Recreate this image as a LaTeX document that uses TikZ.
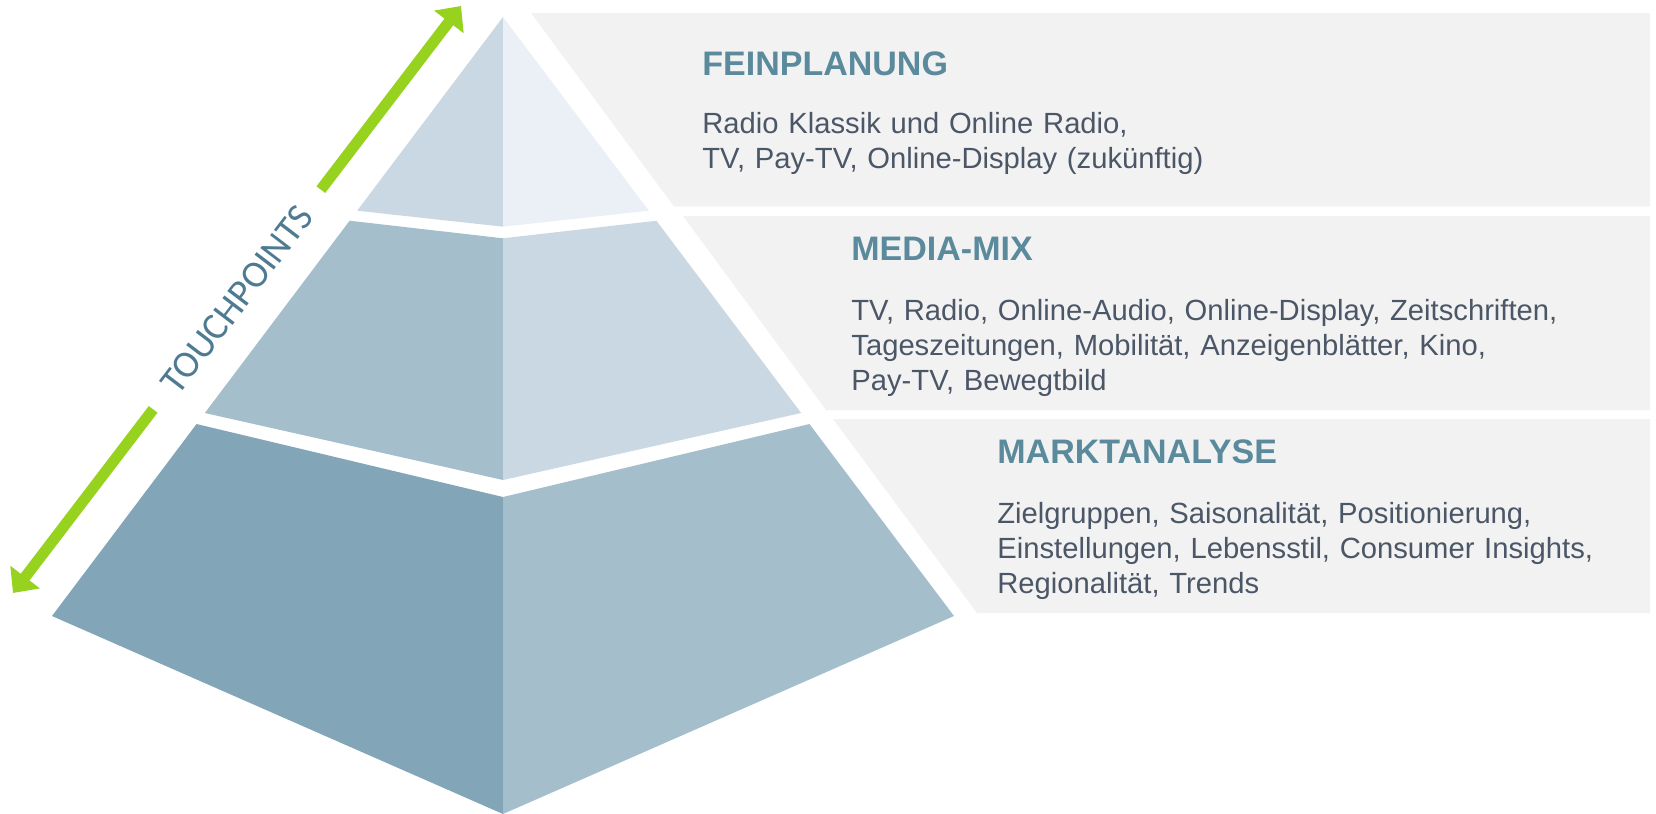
\documentclass[tikz,border=0pt]{standalone}
\usepackage{fontspec}
\setmainfont{Liberation Sans}
\newfontfamily\touchfont{Carlito}
\usetikzlibrary{arrows.meta,calc,positioning}

\definecolor{panelgrey}{HTML}{F2F2F2}
\definecolor{headteal}{HTML}{5B8A9D}
\definecolor{bodygrey}{HTML}{4B5667}
\definecolor{touchblue}{HTML}{4E7B91}
\definecolor{arrowgreen}{HTML}{97D21F}
\definecolor{tierdark}{HTML}{82A5B8}
\definecolor{tiermid}{HTML}{A4BECC}
\definecolor{tierlight}{HTML}{C9D8E3}
\definecolor{tierpale}{HTML}{EAF0F5}

\tikzset{
  heading/.style={anchor=base west, inner sep=0pt, text=headteal,
    font=\fontsize{17pt}{20pt}\selectfont\bfseries},
  bodytext/.style={anchor=base west, inner sep=0pt, text=bodygrey,
    text width=380pt, align=left, font=\fontsize{14.6pt}{17.5pt}\selectfont},
  panel/.style={fill=panelgrey},
  touchlabel/.style={rotate=52.65, inner xsep=12.5pt, inner ysep=0pt,
    text=touchblue, font=\touchfont\fontsize{19pt}{22pt}\selectfont},
  tparrow/.style={draw=arrowgreen, line width=5.5pt,
    -{Triangle[length=10pt,width=18pt]}},
}

\begin{document}
\begin{tikzpicture}[x=0.5pt, y=-0.5pt]
  \useasboundingbox (0,0) rectangle (1656,814);

  % Draw the grey panels behind the texts
  \fill[panel] (531,13) -- (1650,13) -- (1650,206.5) -- (674,206.5) -- cycle;
  \fill[panel] (683,216) -- (1650,216) -- (1650,410) -- (826,410) -- cycle;
  \fill[panel] (833,419) -- (1650,419) -- (1650,613) -- (977,613) -- cycle;

  % Corners of the pyramid
  \coordinate (apex) at (503,17);
  \coordinate (bl) at (52,616);
  \coordinate (br) at (954,616);
  \coordinate (foot) at (503,814);

  % Points on the outer edges where the white bands cut
  \foreach \n/\t in {a/0.3234, b/0.3401, c/0.6611, d/0.6795} {
    \coordinate (\n L) at ($(apex)!\t!(bl)$);
    \coordinate (\n R) at ($(apex)!\t!(br)$);
  }
  \coordinate (ac) at (503,226.7);
  \coordinate (bc) at (503,238.3);
  \coordinate (cc) at (503,480);
  \coordinate (dc) at (503,497);

  % Draw the three tiers, each with a left and a right face
  \fill[tierlight] (apex) -- (aL) -- (ac) -- cycle;
  \fill[tierpale] (apex) -- (ac) -- (aR) -- cycle;
  \fill[tiermid] (bL) -- (cL) -- (cc) -- (bc) -- cycle;
  \fill[tierlight] (bc) -- (cc) -- (cR) -- (bR) -- cycle;
  \fill[tierdark] (dL) -- (bl) -- (foot) -- (dc) -- cycle;
  \fill[tiermid] (dc) -- (foot) -- (br) -- (dR) -- cycle;

  % Draw the touchpoints arrow along the left edge
  \coordinate (tptop) at (461,6);
  \coordinate (tpbot) at (13,593);
  \node[touchlabel] (touch) at ($(tpbot)!0.5!(tptop)$) {TOUCHPOINTS};
  \draw[tparrow] (touch) -- (tptop);
  \draw[tparrow] (touch) -- (tpbot);

  % Add the texts of the panels
  \node[heading] (feinhead) at (702,75) {FEINPLANUNG};
  \node[bodytext] (feinbody) at (702,133)
    {Radio Klassik und Online Radio,\\TV, Pay-TV, Online-Display (zukünftig)};
  \node[heading] (mixhead) at (851,260) {MEDIA-MIX};
  \node[bodytext] (mixbody) at (851,320)
    {TV, Radio, Online-Audio, Online-Display, Zeitschriften,\\
     Tageszeitungen, Mobilität, Anzeigenblätter, Kino,\\Pay-TV, Bewegtbild};
  \node[heading] (markthead) at (997,463) {MARKTANALYSE};
  \node[bodytext] (marktbody) at (997,523)
    {Zielgruppen, Saisonalität, Positionierung,\\
     Einstellungen, Lebensstil, Consumer Insights,\\Regionalität, Trends};
\end{tikzpicture}
\end{document}
